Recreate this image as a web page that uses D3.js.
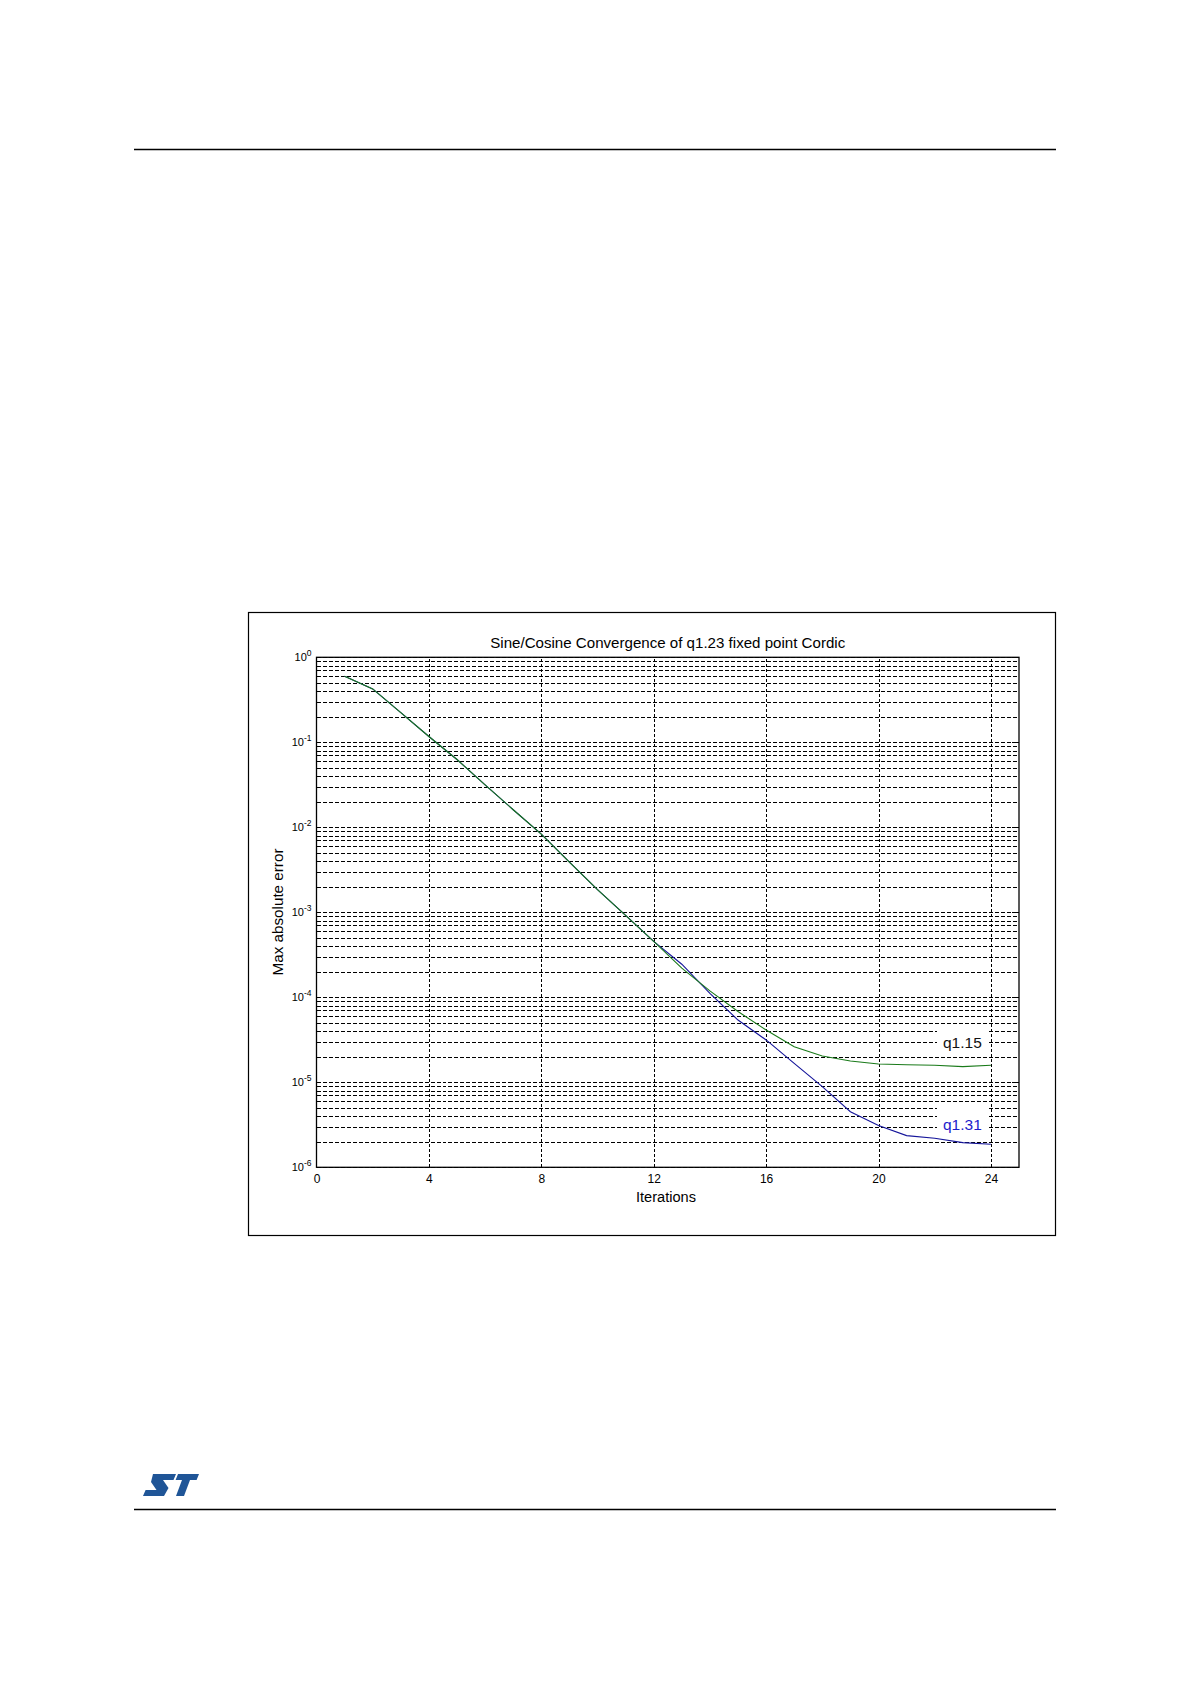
<!DOCTYPE html>
<html>
<head>
<meta charset="utf-8">
<script src="https://cdn.jsdelivr.net/npm/d3@7"></script>
<style>
  html, body { margin: 0; padding: 0; background: #fff; }
  svg { display: block; }
  text { font-family: "Liberation Sans", Arial, sans-serif; }
</style>
</head>
<body>
<svg id="page" width="1190" height="1684"></svg>
<script>
// ---- data ----
const iterations = [1,2,3,4,5,6,7,8,9,10,11,12,13,14,15,16,17,18,19,20,21,22,23,24];
const q115 = [0.60,0.425,0.223,0.117,0.0627,0.0316,0.0161,0.0083,0.0039,0.00185,0.00092,0.000455,
              0.00022,0.000119,6.8e-5,4.12e-5,2.62e-5,2.04e-5,1.78e-5,1.64e-5,1.61e-5,1.585e-5,1.53e-5,1.585e-5];
const q131 = [0.60,0.425,0.223,0.117,0.0627,0.0316,0.0161,0.0083,0.0039,0.00185,0.00092,0.000455,
              0.000245,0.000111,5.4e-5,3.15e-5,1.67e-5,8.9e-6,4.5e-6,3.1e-6,2.36e-6,2.2e-6,1.95e-6,1.87e-6];
const xTicks = [0,4,8,12,16,20,24];
const yExponents = [0,-1,-2,-3,-4,-5,-6];
const seriesNames = ["q1.31","q1.15"];
const titleText = "Sine/Cosine Convergence of q1.23 fixed point Cordic";
const xLabel = "Iterations";
const yLabel = "Max absolute error";

// ---- layout ----
const L = 316.5, R = 1019, T = 657.3, B = 1167.3;
const svg = d3.select("#page");

// page decorations
svg.append("line").attr("x1",134).attr("x2",1056).attr("y1",149.5).attr("y2",149.5)
   .attr("stroke","#000").attr("stroke-width",1.3);
svg.append("line").attr("x1",134).attr("x2",1056).attr("y1",1509.5).attr("y2",1509.5)
   .attr("stroke","#000").attr("stroke-width",1.3);

// ST logo (approximation)
const logo = svg.append("g").attr("transform","translate(143,1474)").attr("fill","#1f5597");
logo.append("path").attr("d","M10,0 L33,0 L30.5,6 L20,6 L25.5,14 L21,22 L0,22 L2.6,16 L13.5,16 L8,8 Z");
logo.append("path").attr("d","M35,0 L56,0 L53.6,6 L47,6 L41,22 L33,22 L39,6 L32.6,6 Z");

// figure frame
svg.append("rect").attr("x",248.5).attr("y",612.5).attr("width",807).attr("height",623)
   .attr("fill","none").attr("stroke","#000").attr("stroke-width",1.2);

// scales
const x = d3.scaleLinear().domain([0,25]).range([L,R]);
const y = d3.scaleLog().domain([1e-6,1]).range([B,T]);

const decades = yExponents.map(e => Math.pow(10,e));
const minors = [];
for (let e=-6; e<0; e++) for (let m=2; m<=9; m++) minors.push(m*Math.pow(10,e));

// grid: horizontal (major + minor)
const gridY = svg.append("g").attr("transform",`translate(${L},0)`)
  .call(d3.axisLeft(y).tickValues(decades.concat(minors)).tickSize(-(R-L)).tickFormat(""));
gridY.select(".domain").remove();
gridY.selectAll("line").attr("stroke","#000").attr("stroke-dasharray","4,2")
     .attr("shape-rendering","crispEdges");

// grid: vertical
const gridX = svg.append("g").attr("transform",`translate(0,${B})`)
  .call(d3.axisBottom(x).tickValues(xTicks.slice(1)).tickSize(-(B-T)).tickFormat(""));
gridX.select(".domain").remove();
gridX.selectAll("line").attr("stroke","#000").attr("stroke-dasharray","3,2")
     .attr("shape-rendering","crispEdges");

// label background boxes (white, covering grid)
svg.append("rect").attr("x",937).attr("y",1027).attr("width",50).attr("height",26).attr("fill","#fff");
svg.append("rect").attr("x",937).attr("y",1108).attr("width",50).attr("height",29).attr("fill","#fff");

// series lines
const line = d3.line().x((d,i)=>x(iterations[i])).y(d=>y(d));
svg.append("path").datum(q131).attr("d",line).attr("fill","none")
   .attr("stroke","#14149a").attr("stroke-width",1.1);
svg.append("path").datum(q115).attr("d",line).attr("fill","none")
   .attr("stroke","#1a7a1a").attr("stroke-width",1.1);

// axes box
svg.append("rect").attr("x",L).attr("y",T).attr("width",R-L).attr("height",B-T)
   .attr("fill","none").attr("stroke","#000").attr("stroke-width",1.3);

// inner ticks (right side majors)
const rTicks = svg.append("g").attr("transform",`translate(${R},0)`)
  .call(d3.axisRight(y).tickValues(decades).tickSize(-7).tickFormat(""));
rTicks.select(".domain").remove();
rTicks.selectAll("line").attr("stroke","#000").attr("shape-rendering","crispEdges");

// y axis labels 10^n
const yAxis = svg.append("g").attr("transform",`translate(${L},0)`)
  .call(d3.axisLeft(y).tickValues(decades).tickSize(0).tickPadding(5).tickFormat(""));
yAxis.select(".domain").remove();
yAxis.selectAll("text").each(function(d){
  const t = d3.select(this);
  t.attr("font-size",11).attr("fill","#000").attr("dy","0.3em");
  t.append("tspan").text("10");
  t.append("tspan").attr("font-size",8.5).attr("dy","-0.65em")
   .text(String(Math.round(Math.log10(d))));
});

// x axis labels
const xAxis = svg.append("g").attr("transform",`translate(0,${B})`)
  .call(d3.axisBottom(x).tickValues(xTicks).tickSize(0).tickPadding(7).tickFormat(d3.format("d")));
xAxis.select(".domain").remove();
xAxis.selectAll("text").attr("font-size",12).attr("fill","#000")
     .attr("font-family","\"Liberation Sans\", Arial, sans-serif");

// title & axis labels
svg.append("text").attr("x",(L+R)/2).attr("y",647.5).attr("text-anchor","middle")
   .attr("font-size",15.5).attr("textLength",355).attr("lengthAdjust","spacingAndGlyphs")
   .text(titleText);
svg.append("text").attr("x",666).attr("y",1201.5).attr("text-anchor","middle")
   .attr("font-size",15.5).attr("textLength",60).attr("lengthAdjust","spacingAndGlyphs")
   .text(xLabel);
svg.append("text").attr("transform","translate(282.5,912) rotate(-90)").attr("text-anchor","middle")
   .attr("font-size",15.5).attr("textLength",127).attr("lengthAdjust","spacingAndGlyphs")
   .text(yLabel);

// series labels
svg.append("text").attr("x",943).attr("y",1048).attr("font-size",15.5).attr("fill","#111")
   .text(seriesNames[1]);
svg.append("text").attr("x",943).attr("y",1130).attr("font-size",15.5).attr("fill","#1c1ccc")
   .text(seriesNames[0]);
</script>
</body>
</html>
